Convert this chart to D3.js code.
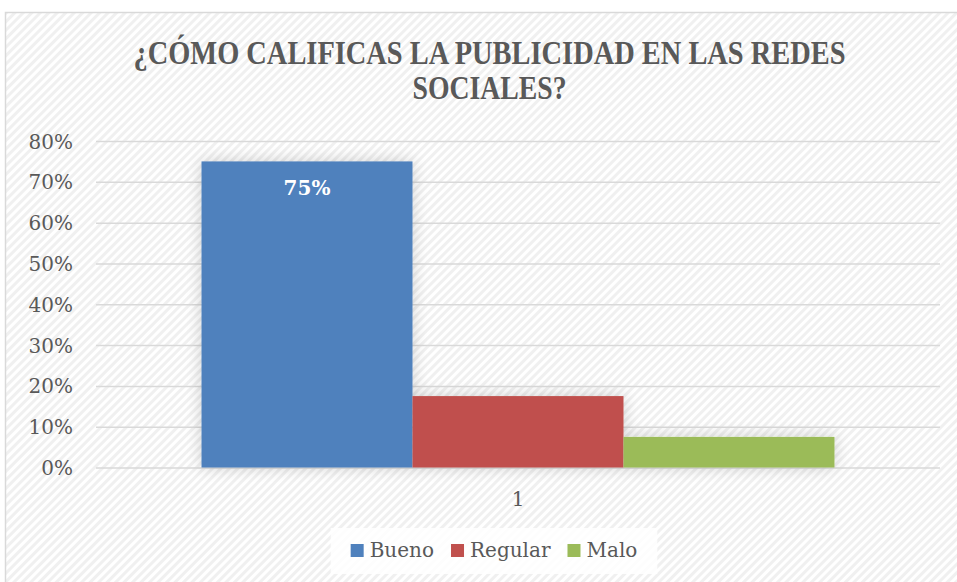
<!DOCTYPE html>
<html><head><meta charset="utf-8">
<script src="https://cdn.jsdelivr.net/npm/d3@7"></script>
<style>html,body{margin:0;padding:0;background:#fff;overflow:hidden}</style>
</head><body>
<script>
const titleLines = ["¿CÓMO CALIFICAS LA PUBLICIDAD EN LAS REDES", "SOCIALES?"];
const categories = ["1"];
const series = ["Bueno", "Regular", "Malo"];
const values = [0.75, 0.175, 0.075];
const colors = ["#4f81bd", "#c0504d", "#9bbb59"];
const yTicks = [0, 0.1, 0.2, 0.3, 0.4, 0.5, 0.6, 0.7, 0.8];
const dataLabels = ["75%", null, null];

const W = 957, H = 582;
const svg = d3.select("body").append("svg").attr("width", W).attr("height", H);
const defs = svg.append("defs");
const pat = defs.append("pattern").attr("id", "hatch").attr("patternUnits", "userSpaceOnUse")
  .attr("width", 6).attr("height", 6).attr("patternTransform", "rotate(45)");
pat.append("rect").attr("width", 6).attr("height", 6).attr("fill", "#ffffff");
pat.append("rect").attr("width", 3).attr("height", 6).attr("fill", "#f0f0f0");
const flt = defs.append("filter").attr("id", "glow").attr("x", "-20%").attr("y", "-20%").attr("width", "140%").attr("height", "140%");
flt.append("feGaussianBlur").attr("in", "SourceAlpha").attr("stdDeviation", 8).attr("result", "b");
flt.append("feComponentTransfer").attr("in", "b").attr("result", "b2")
  .append("feFuncA").attr("type", "linear").attr("slope", 0.18);
const m = flt.append("feMerge");
m.append("feMergeNode").attr("in", "b2");
m.append("feMergeNode").attr("in", "SourceGraphic");

// chart frame
svg.append("rect").attr("x", 5.5).attr("y", 12.5).attr("width", W + 10).attr("height", H + 10)
  .attr("fill", "url(#hatch)").attr("stroke", "#d9d9d9").attr("stroke-width", 1.5);

// title (condensed bold serif)
const titleWidths = [712, 154];
const title = svg.append("text").attr("text-anchor", "middle")
  .attr("font-family", "'Liberation Serif', 'Times New Roman', serif")
  .attr("font-weight", "bold").attr("font-size", 33).attr("fill", "#595959");
titleLines.forEach((t, i) => title.append("tspan").attr("x", 489.5).attr("y", 64 + i * 35)
  .attr("textLength", titleWidths[i]).attr("lengthAdjust", "spacingAndGlyphs").text(t));

const plot = {left: 96, right: 940, top: 141, bottom: 467.5};
const y = d3.scaleLinear().domain([0, 0.8]).range([plot.bottom, plot.top]);
const x0 = d3.scaleBand().domain(categories).range([plot.left, plot.right]).paddingInner(0).paddingOuter(0.1667);
const x1 = d3.scaleBand().domain(series).range([0, x0.bandwidth()]).padding(0);

// gridlines
const yAxis = d3.axisLeft(y).tickValues(yTicks).tickFormat(d3.format(".0%"))
  .tickSize(-(plot.right - plot.left)).tickPadding(23);
const gy = svg.append("g").attr("transform", `translate(${plot.left},0)`).call(yAxis);
gy.select(".domain").remove();
gy.selectAll(".tick line").attr("stroke", "#d9d9d9").attr("stroke-width", 1.5);
gy.selectAll(".tick text").attr("font-family", "'DejaVu Serif', serif").attr("font-size", 20)
  .attr("fill", "#595959").attr("dy", "0.35em");

// bars
const g = svg.append("g");
categories.forEach(c => {
  const gc = g.append("g").attr("transform", `translate(${x0(c)},0)`).attr("filter", "url(#glow)");
  gc.selectAll("rect").data(series).join("rect")
    .attr("x", s => x1(s)).attr("width", x1.bandwidth())
    .attr("y", (s, i) => y(values[i])).attr("height", (s, i) => y(0) - y(values[i]))
    .attr("fill", (s, i) => colors[i]);
  const gl = g.append("g").attr("transform", `translate(${x0(c)},0)`);
  series.forEach((s, i) => {
    if (!dataLabels[i]) return;
    gl.append("text").attr("x", x1(s) + x1.bandwidth() / 2).attr("y", y(values[i]) + 34)
      .attr("text-anchor", "middle").attr("font-family", "'DejaVu Serif', serif")
      .attr("font-weight", "bold").attr("font-size", 20).attr("fill", "#ffffff").text(dataLabels[i]);
  });
});

// x axis label
const xAxis = d3.axisBottom(x0).tickSize(0).tickPadding(24);
const gx = svg.append("g").attr("transform", `translate(0,${plot.bottom})`).call(xAxis);
gx.select(".domain").remove();
gx.selectAll(".tick text").attr("font-family", "'DejaVu Serif', serif").attr("font-size", 20).attr("fill", "#595959");

// legend
const lg = svg.append("g");
const lgBg = lg.append("rect").attr("fill", "#ffffff").attr("opacity", 0.85);
const items = lg.selectAll("g.item").data(series).join("g").attr("class", "item");
items.append("rect").attr("width", 13).attr("height", 13).attr("y", -13).attr("fill", (s, i) => colors[i]);
items.append("text").attr("x", 19).attr("font-family", "'DejaVu Serif', serif").attr("font-size", 20)
  .attr("fill", "#595959").text(s => s);
let cx = 0; const offs = [];
items.each(function() {
  offs.push(cx);
  const w = 19 + d3.select(this).select("text").node().getComputedTextLength();
  cx += w + 17;
});
const total = cx - 17;
const startX = 494 - total / 2;
items.attr("transform", (s, i) => `translate(${startX + offs[i]},557)`);
lgBg.attr("x", startX - 20).attr("y", 528).attr("width", total + 40).attr("height", 46);
</script>
</body></html>
